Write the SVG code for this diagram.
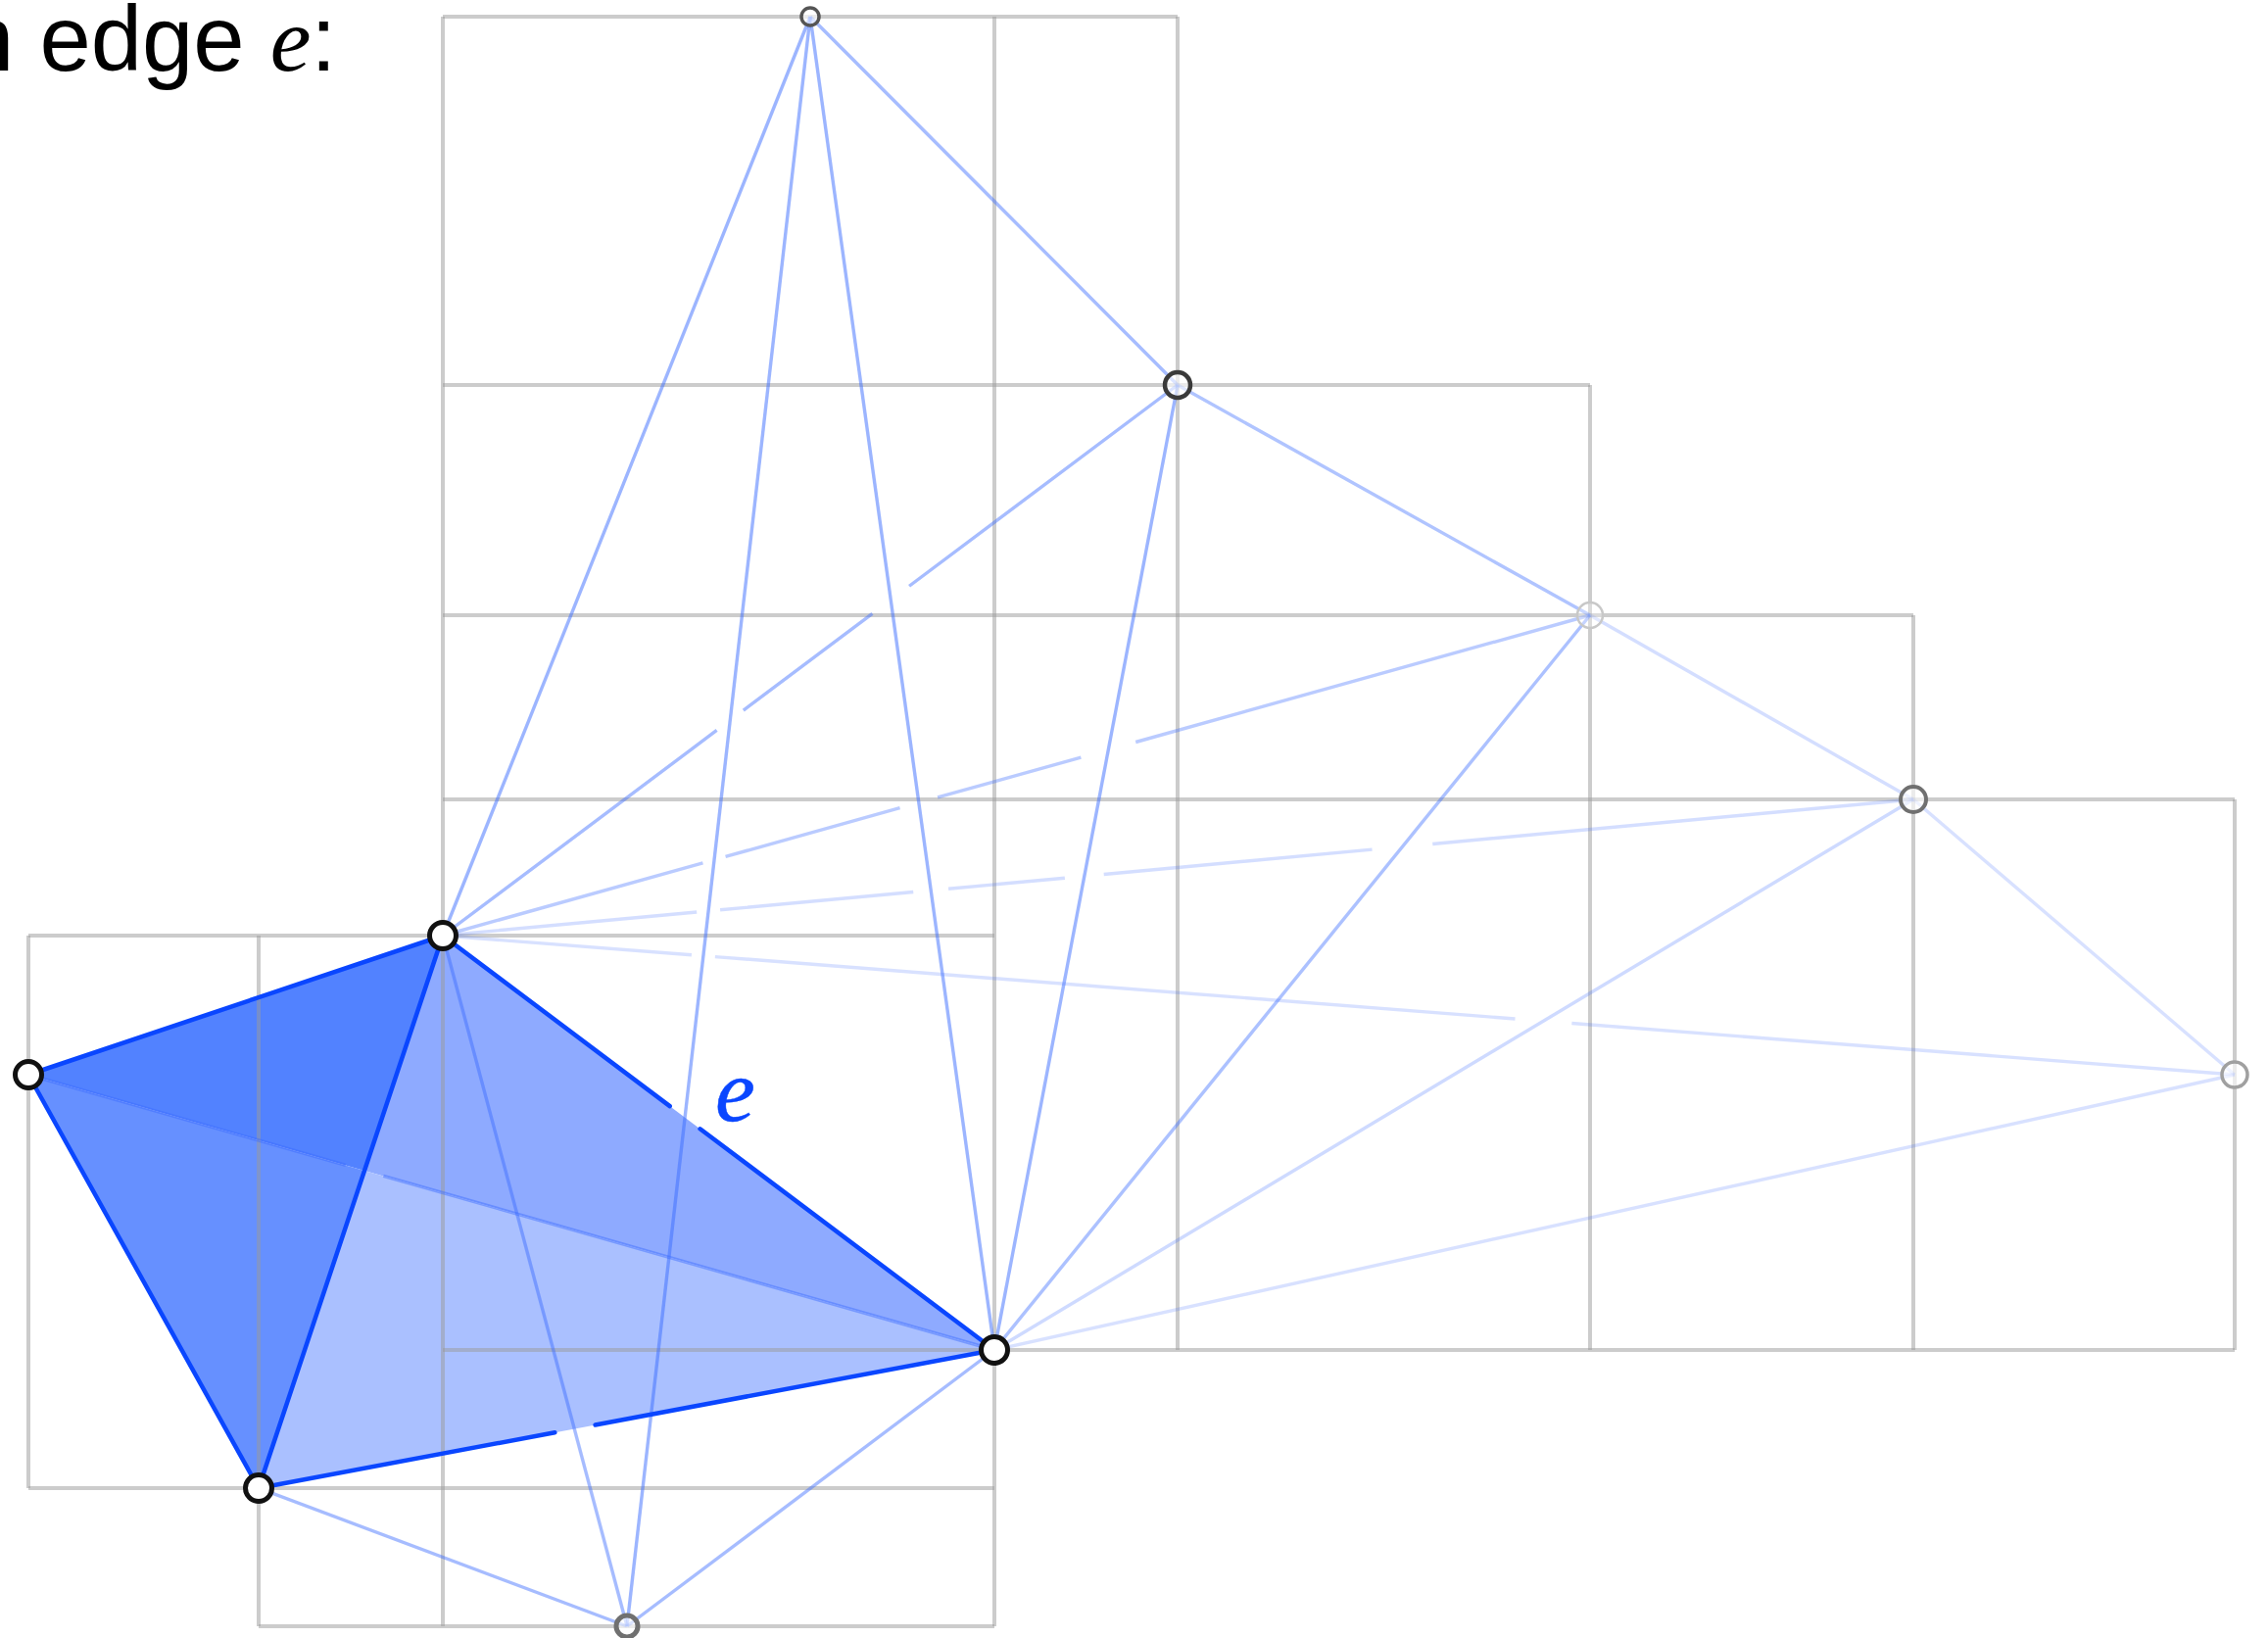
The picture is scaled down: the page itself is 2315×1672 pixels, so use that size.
<svg xmlns="http://www.w3.org/2000/svg" width="2315" height="1672" viewBox="0 0 2315 1672">
<style>
.grid line{stroke:#9a9a9a;stroke-opacity:0.5;stroke-width:4;fill:none}
.bl{stroke:#3a6bff;stroke-width:3.4;fill:none;stroke-linecap:butt}
.edge{stroke:#0a46ff;stroke-width:4.5;fill:none;stroke-linecap:round}
.main{fill:#fff;stroke:#111;stroke-width:5}
.lbl{font-family:"Liberation Sans",Arial,sans-serif;font-size:94px;fill:#000}
.it{font-family:"Liberation Serif","Times New Roman",serif;font-style:italic}
</style>
<rect width="2315" height="1672" fill="#fff"/>
<g id="fill">
<polygon points="452,955 29,1097 372,1195" fill="#5282ff"/>
<polygon points="29,1097 264,1519 372,1195" fill="#6690ff"/>
<polygon points="452,955 372,1195 1015,1378" fill="#8eaaff"/>
<polygon points="372,1195 264,1519 1015,1378" fill="#aac0ff"/>
</g>
<g class="grid" id="grid">
<line x1="452" y1="17" x2="452" y2="1660"/>
<line x1="1015" y1="17" x2="1015" y2="1660"/>
<line x1="1202" y1="17" x2="1202" y2="1378"/>
<line x1="1623" y1="393" x2="1623" y2="1378"/>
<line x1="1953" y1="628" x2="1953" y2="1378"/>
<line x1="2281" y1="816" x2="2281" y2="1378"/>
<line x1="29" y1="955" x2="29" y2="1519"/>
<line x1="264" y1="955" x2="264" y2="1660"/>
<line x1="452" y1="17" x2="1202" y2="17"/>
<line x1="452" y1="393" x2="1623" y2="393"/>
<line x1="452" y1="628" x2="1953" y2="628"/>
<line x1="452" y1="816" x2="2281" y2="816"/>
<line x1="29" y1="955" x2="1015" y2="955"/>
<line x1="452" y1="1378" x2="2281" y2="1378"/>
<line x1="29" y1="1519" x2="1015" y2="1519"/>
<line x1="264" y1="1660" x2="1015" y2="1660"/>
</g>
<g id="connectors">
<line class="bl" x1="452" y1="955" x2="2281" y2="1097" stroke-opacity="0.2" stroke-dasharray="254.7 24 819.1 58 2000"/>
<line class="bl" x1="2281" y1="1097" x2="1015" y2="1378" stroke-opacity="0.2"/>
<line class="bl" x1="1953" y1="816" x2="2281" y2="1097" stroke-opacity="0.2"/>
<line class="bl" x1="452" y1="955" x2="1953" y2="816" stroke-opacity="0.22" stroke-dasharray="260.3 24 198 36 119.3 40 275 62 2000"/>
<line class="bl" x1="1953" y1="816" x2="1015" y2="1378" stroke-opacity="0.25"/>
<line class="bl" x1="1623" y1="628" x2="1953" y2="816" stroke-opacity="0.22"/>
<line class="bl" x1="452" y1="955" x2="1623" y2="628" stroke-opacity="0.35" stroke-dasharray="275.6 24 184.8 40 151.9 58 2000"/>
<line class="bl" x1="1623" y1="628" x2="1015" y2="1378" stroke-opacity="0.42"/>
<line class="bl" x1="1202" y1="393" x2="1623" y2="628" stroke-opacity="0.4"/>
<line class="bl" x1="452" y1="955" x2="1202" y2="393" stroke-opacity="0.45" stroke-dasharray="349.4 34 164.5 47 2000"/>
<line class="bl" x1="1202" y1="393" x2="1015" y2="1378" stroke-opacity="0.5"/>
<line class="bl" x1="827" y1="17" x2="1202" y2="393" stroke-opacity="0.45"/>
<line class="bl" x1="827" y1="17" x2="452" y2="955" stroke-opacity="0.5"/>
<line class="bl" x1="827" y1="17" x2="1015" y2="1378" stroke-opacity="0.5"/>
<line class="bl" x1="827" y1="17" x2="640" y2="1660" stroke-opacity="0.5"/>
<line class="bl" x1="452" y1="955" x2="640" y2="1660" stroke-opacity="0.45"/>
<line class="bl" x1="264" y1="1519" x2="640" y2="1660" stroke-opacity="0.45"/>
<line class="bl" x1="1015" y1="1378" x2="640" y2="1660" stroke-opacity="0.45"/>
<line class="bl" x1="29" y1="1097" x2="1015" y2="1378" stroke="#1f55ff" stroke-opacity="0.45" stroke-dasharray="336.8 40 2000"/>
<line class="edge" x1="452" y1="955" x2="29" y2="1097"/>
<line class="edge" x1="29" y1="1097" x2="264" y2="1519"/>
<line class="edge" x1="452" y1="955" x2="264" y2="1519"/>
<line class="edge" x1="452" y1="955" x2="1015" y2="1378" stroke-linecap="butt" stroke-dasharray="289.8 38.6 2000"/>
<line class="edge" x1="264" y1="1519" x2="1015" y2="1378" stroke-linecap="butt" stroke-dasharray="307.6 42 2000"/>
</g>
<g id="node-T"><circle cx="827" cy="17" r="9" fill="#fff" fill-opacity="0.6" stroke="#555" stroke-width="3.5"/></g>
<g id="node-F"><circle cx="1202" cy="393" r="13" fill="#fff" fill-opacity="0.6" stroke="#3a3a3a" stroke-width="4.5"/></g>
<g id="node-G"><circle cx="1623" cy="628" r="13" fill="#fff" fill-opacity="0.3" stroke="#c8c8c8" stroke-width="2.5"/></g>
<g id="node-H"><circle cx="1953" cy="816" r="13" fill="#fff" fill-opacity="0.6" stroke="#707070" stroke-width="4"/></g>
<g id="node-I"><circle cx="2281" cy="1097" r="13" fill="#fff" fill-opacity="0.6" stroke="#a0a0a0" stroke-width="3.5"/></g>
<g id="node-E"><circle cx="640" cy="1660" r="11" fill="#fff" fill-opacity="0.6" stroke="#707070" stroke-width="5"/></g>
<g id="node-A"><circle class="main" cx="452" cy="955" r="13.5"/></g>
<g id="node-B"><circle class="main" cx="29" cy="1097" r="13.5"/></g>
<g id="node-C"><circle class="main" cx="264" cy="1519" r="13.5"/></g>
<g id="node-D"><circle class="main" cx="1015" cy="1378" r="13.5"/></g>
<text class="lbl" x="-38" y="72">n edge <tspan class="it">e</tspan>:</text>
<text x="730" y="1144" font-family="Liberation Serif,'Times New Roman',serif" font-style="italic" font-size="92" fill="#0a46ff" stroke="#0a46ff" stroke-width="0.5">e</text>
</svg>
